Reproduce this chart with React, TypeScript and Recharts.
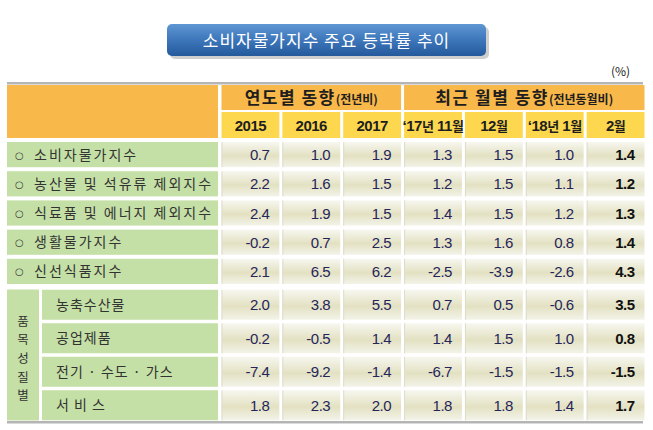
import { ScatterChart, Scatter, XAxis, YAxis } from "recharts";

const title = "소비자물가지수 주요 등락률 추이";
const unitLabel = "(%)";

const columns = ["2015", "2016", "2017", "‘17년 11월", "12월", "‘18년 1월", "2월"];
const columnGroups = [
  { title: "연도별 동향", note: "(전년비)", span: 3 },
  { title: "최근 월별 동향", note: "(전년동월비)", span: 4 },
];

const headlineRows = [
  "소비자물가지수",
  "농산물 및 석유류 제외지수",
  "식료품 및 에너지 제외지수",
  "생활물가지수",
  "신선식품지수",
];
const itemGroupLabel = "품목성질별";
const itemRows = ["농축수산물", "공업제품", "전기 · 수도 · 가스", "서 비 스"];

const cpiAll = [0.7, 1.0, 1.9, 1.3, 1.5, 1.0, 1.4];
const exAgriOil = [2.2, 1.6, 1.5, 1.2, 1.5, 1.1, 1.2];
const exFoodEnergy = [2.4, 1.9, 1.5, 1.4, 1.5, 1.2, 1.3];
const livingCost = [-0.2, 0.7, 2.5, 1.3, 1.6, 0.8, 1.4];
const freshFood = [2.1, 6.5, 6.2, -2.5, -3.9, -2.6, 4.3];
const agriLivestockFish = [2.0, 3.8, 5.5, 0.7, 0.5, -0.6, 3.5];
const industrialGoods = [-0.2, -0.5, 1.4, 1.4, 1.5, 1.0, 0.8];
const utilities = [-7.4, -9.2, -1.4, -6.7, -1.5, -1.5, -1.5];
const services = [1.8, 2.3, 2.0, 1.8, 1.8, 1.4, 1.7];

const toCells = (rows: string[], series: number[][]) =>
  rows.flatMap((row, r) =>
    series[r].map((value, c) => ({ row, col: columns[c], value, last: c === columns.length - 1 }))
  );

const headlineCells = toCells(headlineRows, [cpiAll, exAgriOil, exFoodEnergy, livingCost, freshFood]);
const itemCells = toCells(itemRows, [agriLivestockFish, industrialGoods, utilities, services]);

// layout
const W = 653;
const LABEL_W = 220;
const RIGHT = 7;
const BAND = (W - LABEL_W - RIGHT) / columns.length;
const CELL_W = BAND - 3;
const HEAD_H = 60;
const CHART_A_H = 206;
const PITCH_A = (CHART_A_H - HEAD_H) / headlineRows.length;
const CHART_B_H = 138;
const PITCH_B = (CHART_B_H - 4) / itemRows.length;

const ORANGE = "#f8b84a";
const YELLOW = "#fdd84f";
const GREEN = "#c5e0a6";
const KR = "'Noto Sans CJK KR', sans-serif";
const NUM = "'Liberation Sans', Arial, sans-serif";

const headerRuns = (label: string) =>
  label.split(/([가-힣]+)/).filter(Boolean).map((part, i) =>
    /[가-힣]/.test(part) ? (
      <tspan key={i} fontFamily={KR} fontSize={13}>{part}</tspan>
    ) : (
      <tspan key={i} fontFamily={NUM} fontSize={15}>{part}</tspan>
    )
  );

const HeaderTick = (props: any) => {
  const { x, payload, index } = props;
  const left = x - BAND / 2;
  let start = 0;
  let group: (typeof columnGroups)[number] | null = null;
  columnGroups.forEach((g) => {
    if (index === start) group = g;
    start += g.span;
  });
  const g = group as (typeof columnGroups)[number] | null;
  return (
    <g>
      {index === 0 && (
        <g>
          <rect x={7} y={2} width={636} height={2.5} fill="#b5b5b5" />
          <rect x={7} y={5} width={211} height={53} fill={ORANGE} />
        </g>
      )}
      {g && (
        <g>
          <rect x={left + 1.5} y={5} width={BAND * g.span - 3} height={25} fill={ORANGE} />
          <text x={left + (BAND * g.span) / 2} y={24} textAnchor="middle" fill="#1e1e1e" fontFamily={KR} fontWeight="bold">
            <tspan fontSize={17} letterSpacing={1.5}>{g.title}</tspan>
            <tspan fontSize={12}>{g.note}</tspan>
          </text>
        </g>
      )}
      <rect x={left + 1.5} y={32} width={CELL_W} height={26} fill={YELLOW} />
      <text x={x} y={51} textAnchor="middle" fill="#1e1e1e" fontWeight="bold" letterSpacing={-0.5}>
        {headerRuns(payload.value)}
      </text>
    </g>
  );
};

const HeadlineTick = (props: any) => {
  const { y, payload } = props;
  const h = PITCH_A - 4;
  return (
    <g>
      <rect x={7} y={y - h / 2} width={211} height={h} fill={GREEN} />
      <text x={15} y={y + 4} fontSize={10} fill="#333" fontFamily="'DejaVu Sans', sans-serif">○</text>
      <text x={34} y={y + 5} fontSize={14} fill="#333" fontFamily={KR} letterSpacing={2}>
        {payload.value}
      </text>
    </g>
  );
};

const ItemTick = (props: any) => {
  const { y, payload, index } = props;
  const h = PITCH_B - 3.5;
  const top = y - PITCH_B / 2;
  const mid = top + (PITCH_B * itemRows.length) / 2 + 3.5;
  return (
    <g>
      {index === 0 && (
        <g>
          <rect x={7} y={top + 1.5} width={32} height={PITCH_B * itemRows.length - 3} fill={GREEN} />
          {Array.from(itemGroupLabel).map((ch, i) => (
            <text key={i} x={23} y={mid + (i - 2) * 18.6 + 4.5} textAnchor="middle" fontSize={12.5} fill="#333" fontFamily={KR}>
              {ch}
            </text>
          ))}
        </g>
      )}
      <rect x={42} y={y - h / 2} width={176} height={h} fill={GREEN} />
      <text x={56} y={y + 5} fontSize={14} fill="#333" fontFamily={KR} letterSpacing={1}>
        {payload.value}
      </text>
      {index === itemRows.length - 1 && (
        <rect x={7} y={y + PITCH_B / 2 - 1} width={636} height={2.5} fill="#b5b5b5" />
      )}
    </g>
  );
};

const makeCell = (h: number, grad: string) => (props: any) => {
  const { cx, cy, payload } = props;
  return (
    <g>
      <rect x={cx - CELL_W / 2} y={cy - h / 2} width={CELL_W} height={h} fill={`url(#${grad})`} />
      <rect x={cx - CELL_W / 2} y={cy - h / 2} width={1} height={h} fill="#dcdccc" />
      <text
        x={cx + CELL_W / 2 - 10}
        y={cy + 5.5}
        textAnchor="end"
        fontFamily={NUM}
        fontSize={15}
        letterSpacing={-0.5}
        fontWeight={payload.last ? "bold" : "normal"}
        fill={payload.last ? "#111" : "#25255a"}
      >
        {payload.value.toFixed(1)}
      </text>
    </g>
  );
};

const CellGradient = ({ id }: { id: string }) => (
  <defs>
    <linearGradient id={id} x1="0" y1="0" x2="0" y2="1">
      <stop offset="0%" stopColor="#f7f7f0" />
      <stop offset="55%" stopColor="#e3e1c2" />
      <stop offset="100%" stopColor="#f3f3e9" />
    </linearGradient>
  </defs>
);

export default function App() {
  return (
    <div style={{ position: "absolute", left: 0, top: 0, width: W, height: 430, background: "#fff", fontFamily: KR }}>
      <div style={{ position: "absolute", left: 170, top: 27, width: 319, height: 32, borderRadius: 5, background: "#cfcfcf" }} />
      <div
        style={{
          position: "absolute",
          left: 167,
          top: 24,
          width: 319,
          height: 32,
          borderRadius: 5,
          background: "linear-gradient(180deg, #5f97d3 0%, #3d76ba 50%, #245a9c 100%)",
          color: "#fff",
          fontSize: 17,
          lineHeight: "32px",
          textAlign: "center",
          letterSpacing: 1,
        }}
      >
        {title}
      </div>
      <div style={{ position: "absolute", left: 611, top: 63, fontSize: 12, lineHeight: "16px", color: "#222" }}>{unitLabel}</div>

      <div style={{ position: "absolute", left: 0, top: 80 }}>
        <ScatterChart width={W} height={CHART_A_H} margin={{ top: 0, right: RIGHT, bottom: 0, left: 0 }}>
          <CellGradient id="cellGradA" />
          <XAxis
            type="category"
            dataKey="col"
            orientation="top"
            height={HEAD_H}
            allowDuplicatedCategory={false}
            interval={0}
            axisLine={false}
            tickLine={false}
            tick={HeaderTick}
          />
          <YAxis
            type="category"
            dataKey="row"
            width={LABEL_W}
            reversed
            allowDuplicatedCategory={false}
            interval={0}
            axisLine={false}
            tickLine={false}
            tick={HeadlineTick}
          />
          <Scatter data={headlineCells} shape={makeCell(PITCH_A - 4, "cellGradA")} isAnimationActive={false} />
        </ScatterChart>
      </div>

      <div style={{ position: "absolute", left: 0, top: 288 }}>
        <ScatterChart width={W} height={CHART_B_H} margin={{ top: 0, right: RIGHT, bottom: 4, left: 0 }}>
          <CellGradient id="cellGradB" />
          <XAxis type="category" dataKey="col" hide allowDuplicatedCategory={false} />
          <YAxis
            type="category"
            dataKey="row"
            width={LABEL_W}
            reversed
            allowDuplicatedCategory={false}
            interval={0}
            axisLine={false}
            tickLine={false}
            tick={ItemTick}
          />
          <Scatter data={itemCells} shape={makeCell(PITCH_B - 3.5, "cellGradB")} isAnimationActive={false} />
        </ScatterChart>
      </div>
    </div>
  );
}
